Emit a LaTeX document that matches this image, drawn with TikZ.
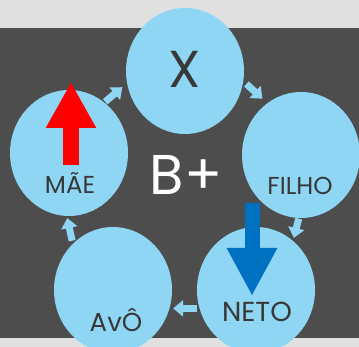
\documentclass[tikz,border=0pt]{standalone}
\usepackage{fontspec}
\setmainfont{Poppins}
\usetikzlibrary{shapes.geometric,arrows.meta}
\definecolor{paper}{HTML}{E0E0E0}
\definecolor{panel}{HTML}{4D4D4D}
\definecolor{bubble}{HTML}{8FD6F4}
\definecolor{ink}{HTML}{383838}
\definecolor{downblue}{HTML}{0070C0}

\begin{document}
\begin{tikzpicture}[x=1pt,y=1pt,
    member/.style={ellipse,fill=bubble,minimum width=118pt,minimum height=126pt,inner sep=0pt},
    word/.style={anchor=base,text=ink,inner sep=0pt},
    roundarrow/.style={bubble,line width=7pt,-{Triangle[width=16pt,length=10pt]}}]
    \useasboundingbox (0,0) rectangle (359,347);
    \fill[paper] (0,0) rectangle (359,347);
    \fill[panel] (0,9) rectangle (359,319);

    \node[member] (x) at (185,276) {};
    \node[member] (filho) at (301,192) {};
    \node[member] (neto) at (256,57) {};
    \node[member] (avo) at (113,57) {};
    \node[member] (mae) at (69,194) {};

    \draw[roundarrow,shorten <=1pt,shorten >=6pt] (mae.55) -- (x.192);
    \draw[roundarrow,shorten <=4pt,shorten >=6.5pt] (x.350) -- (filho.123);
    \draw[roundarrow,shorten <=0.5pt,shorten >=3pt] (filho.268) -- (neto.53);
    \draw[roundarrow,shorten <=2pt,shorten >=3.5pt] (neto.198) -- (avo.342);
    \draw[roundarrow,shorten <=3pt,shorten >=2pt] (avo.131) -- (mae.268);

    \node[word,font=\fontsize{52}{52}\selectfont] (xtext) at (185,259) {X};
    \node[word,font=\fontsize{24.5}{24.5}\selectfont] (maetext) at (70,153) {MÃE};
    \node[word,font=\fontsize{24.5}{24.5}\selectfont] (filhotext) at (300,152) {FILHO};
    \node[word,font=\fontsize{27.5}{27.5}\selectfont] (netotext) at (257,25) {NETO};
    \node[word,font=\fontsize{26}{26}\selectfont] (avotext) at (116,15) {AvÔ};
    \node[word,text=white,font=\fontsize{56}{56}\selectfont] (grade) at (186,152) {B+};

    \coordinate (uptail) at (71,182);
    \coordinate (uptip) at (71,265);
    \draw[red,line width=16pt,-{Triangle[width=47pt,length=46pt]}] (uptail) -- (uptip);
    \coordinate (downtail) at (252,144);
    \coordinate (downtip) at (252,51);
    \draw[downblue,line width=15pt,-{Triangle[width=47pt,length=48pt]}] (downtail) -- (downtip);
\end{tikzpicture}
\end{document}
